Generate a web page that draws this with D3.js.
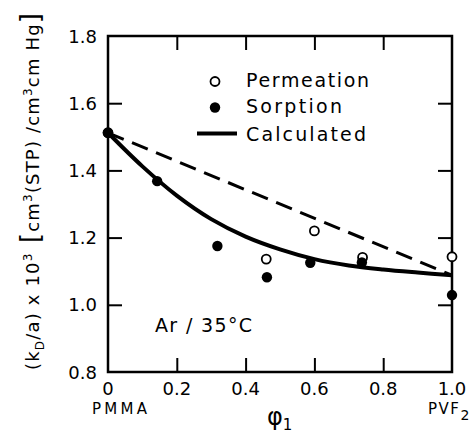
<!DOCTYPE html>
<html>
<head>
<meta charset="utf-8">
<script src="https://cdn.jsdelivr.net/npm/d3@7/dist/d3.min.js"></script>
<style>
  html, body { margin: 0; padding: 0; background: #fff; }
  svg text { font-family: "DejaVu Sans", sans-serif; fill: #000; }
</style>
</head>
<body>
<svg id="chart" width="474" height="436"></svg>
<script>
// Volume fraction of PVF2 in the blend
const phiPermeation = [0, 0.46, 0.60, 0.74, 1.0];
const kPermeation   = [1.512, 1.136, 1.22, 1.141, 1.143];

const phiSorption = [0, 0.143, 0.318, 0.462, 0.588, 0.738, 1.0];
const kSorption   = [1.512, 1.368, 1.175, 1.082, 1.125, 1.126, 1.029];

const phiCalc = [0, 0.1, 0.2, 0.3, 0.4, 0.5, 0.6, 0.7, 0.8, 0.9, 1.0];
const kCalc   = [1.512, 1.412, 1.325, 1.255, 1.203, 1.165, 1.136, 1.117, 1.105, 1.096, 1.088];

// Additive (linear) mixing line between the pure polymers
const phiLinear = [0, 1.0];
const kLinear   = [1.512, 1.088];

const xTicks = [0, 0.2, 0.4, 0.6, 0.8, 1.0];
const xTickLabels = ["0", "0.2", "0.4", "0.6", "0.8", "1.0"];
const yTicks = [0.8, 1.0, 1.2, 1.4, 1.6, 1.8];
const yTickLabels = ["0.8", "1.0", "1.2", "1.4", "1.6", "1.8"];

const svg = d3.select("#chart");
const L = 108, R = 452, T = 36, B = 372;

const x = d3.scaleLinear().domain([0, 1]).range([L, R]);
const y = d3.scaleLinear().domain([0.8, 1.8]).range([B, T]);

const tickLen = 14;

// Inward ticks on all four sides
function tickAxis(axis, tr) {
  const g = svg.append("g").attr("transform", tr).call(axis);
  g.select(".domain").remove();
  g.selectAll("line").attr("stroke", "#000").attr("stroke-width", 2);
  g.selectAll("text").remove();
  return g;
}
const innerX = xTicks.slice(1, -1), innerY = yTicks.slice(1, -1);
tickAxis(d3.axisBottom(x).tickValues(innerX).tickSize(-tickLen), `translate(0,${B})`);
tickAxis(d3.axisTop(x).tickValues(innerX).tickSize(-tickLen), `translate(0,${T})`);
tickAxis(d3.axisLeft(y).tickValues(innerY).tickSize(-tickLen), `translate(${L},0)`);
tickAxis(d3.axisRight(y).tickValues(innerY).tickSize(-tickLen), `translate(${R},0)`);

// Frame
svg.append("rect")
  .attr("x", L).attr("y", T).attr("width", R - L).attr("height", B - T)
  .attr("fill", "none").attr("stroke", "#000").attr("stroke-width", 2.5);

// Tick labels
svg.append("g").selectAll("text").data(xTicks).join("text")
  .attr("x", d => x(d)).attr("y", 395)
  .attr("text-anchor", "middle").attr("font-size", 18)
  .text((d, i) => xTickLabels[i]);

svg.append("g").selectAll("text").data(yTicks).join("text")
  .attr("x", 97).attr("y", d => y(d) + 6.5)
  .attr("text-anchor", "end").attr("font-size", 18)
  .text((d, i) => yTickLabels[i]);

// End-member labels
svg.append("text").attr("x", 92).attr("y", 414).attr("font-size", 15)
  .attr("textLength", 55).attr("lengthAdjust", "spacing").text("PMMA");
const pvf = svg.append("text").attr("x", 428).attr("y", 414).attr("font-size", 15);
pvf.append("tspan").attr("letter-spacing", 1.5).text("PVF");
pvf.append("tspan").attr("dy", 6).attr("font-size", 14).text("2");

// x-axis title
const xt = svg.append("text").attr("x", 267).attr("y", 425).attr("font-size", 24);
xt.append("tspan").text("φ");
xt.append("tspan").attr("dy", 5).attr("font-size", 15).text("1");

// y-axis title
const yt = svg.append("text")
  .attr("transform", "translate(39,370) rotate(-90)")
  .attr("font-size", 18)
  .attr("textLength", 357).attr("lengthAdjust", "spacing");
yt.append("tspan").text("(k");
yt.append("tspan").attr("dy", 5).attr("font-size", 12).text("D");
yt.append("tspan").attr("dy", -5).text("/a) x 10");
yt.append("tspan").attr("dy", -7).attr("font-size", 12).text("3");
yt.append("tspan").attr("dy", 7).attr("font-size", 26).text(" [");
yt.append("tspan").text("cm");
yt.append("tspan").attr("dy", -7).attr("font-size", 12).text("3");
yt.append("tspan").attr("dy", 7).text("(STP) /cm");
yt.append("tspan").attr("dy", -7).attr("font-size", 12).text("3");
yt.append("tspan").attr("dy", 7).text("cm Hg");
yt.append("tspan").attr("font-size", 26).text("]");

// Linear mixing rule (dashed)
svg.append("path")
  .datum(phiLinear.map((p, i) => [p, kLinear[i]]))
  .attr("d", d3.line().x(d => x(d[0])).y(d => y(d[1])))
  .attr("fill", "none").attr("stroke", "#000").attr("stroke-width", 3)
  .attr("stroke-dasharray", "17,9");

// Calculated curve
svg.append("path")
  .datum(phiCalc.map((p, i) => [p, kCalc[i]]))
  .attr("d", d3.line().x(d => x(d[0])).y(d => y(d[1])).curve(d3.curveCatmullRom))
  .attr("fill", "none").attr("stroke", "#000").attr("stroke-width", 4);

// Permeation (open) then sorption (filled)
svg.append("g").selectAll("circle").data(phiPermeation).join("circle")
  .attr("cx", d => x(d)).attr("cy", (d, i) => y(kPermeation[i])).attr("r", 4.5)
  .attr("fill", "#fff").attr("stroke", "#000").attr("stroke-width", 1.8);

svg.append("g").selectAll("circle").data(phiSorption).join("circle")
  .attr("cx", d => x(d)).attr("cy", (d, i) => y(kSorption[i])).attr("r", 5.2)
  .attr("fill", "#000");

// Legend
svg.append("circle").attr("cx", 215).attr("cy", 81.5).attr("r", 4.5)
  .attr("fill", "#fff").attr("stroke", "#000").attr("stroke-width", 1.8);
svg.append("circle").attr("cx", 215).attr("cy", 107.5).attr("r", 5.2).attr("fill", "#000");
svg.append("line").attr("x1", 197).attr("x2", 237).attr("y1", 133.5).attr("y2", 133.5)
  .attr("stroke", "#000").attr("stroke-width", 4);

const legendItems = [
  { label: "Permeation", y: 87, w: 123 },
  { label: "Sorption", y: 113, w: 96 },
  { label: "Calculated", y: 140.5, w: 120 }
];
svg.append("g").selectAll("text").data(legendItems).join("text")
  .attr("x", 246).attr("y", d => d.y).attr("font-size", 19)
  .attr("textLength", d => d.w).attr("lengthAdjust", "spacing")
  .text(d => d.label);

// Gas / temperature annotation
svg.append("text").attr("x", 155).attr("y", 332).attr("font-size", 19)
  .attr("textLength", 97).attr("lengthAdjust", "spacing")
  .text("Ar / 35°C");
</script>
</body>
</html>
